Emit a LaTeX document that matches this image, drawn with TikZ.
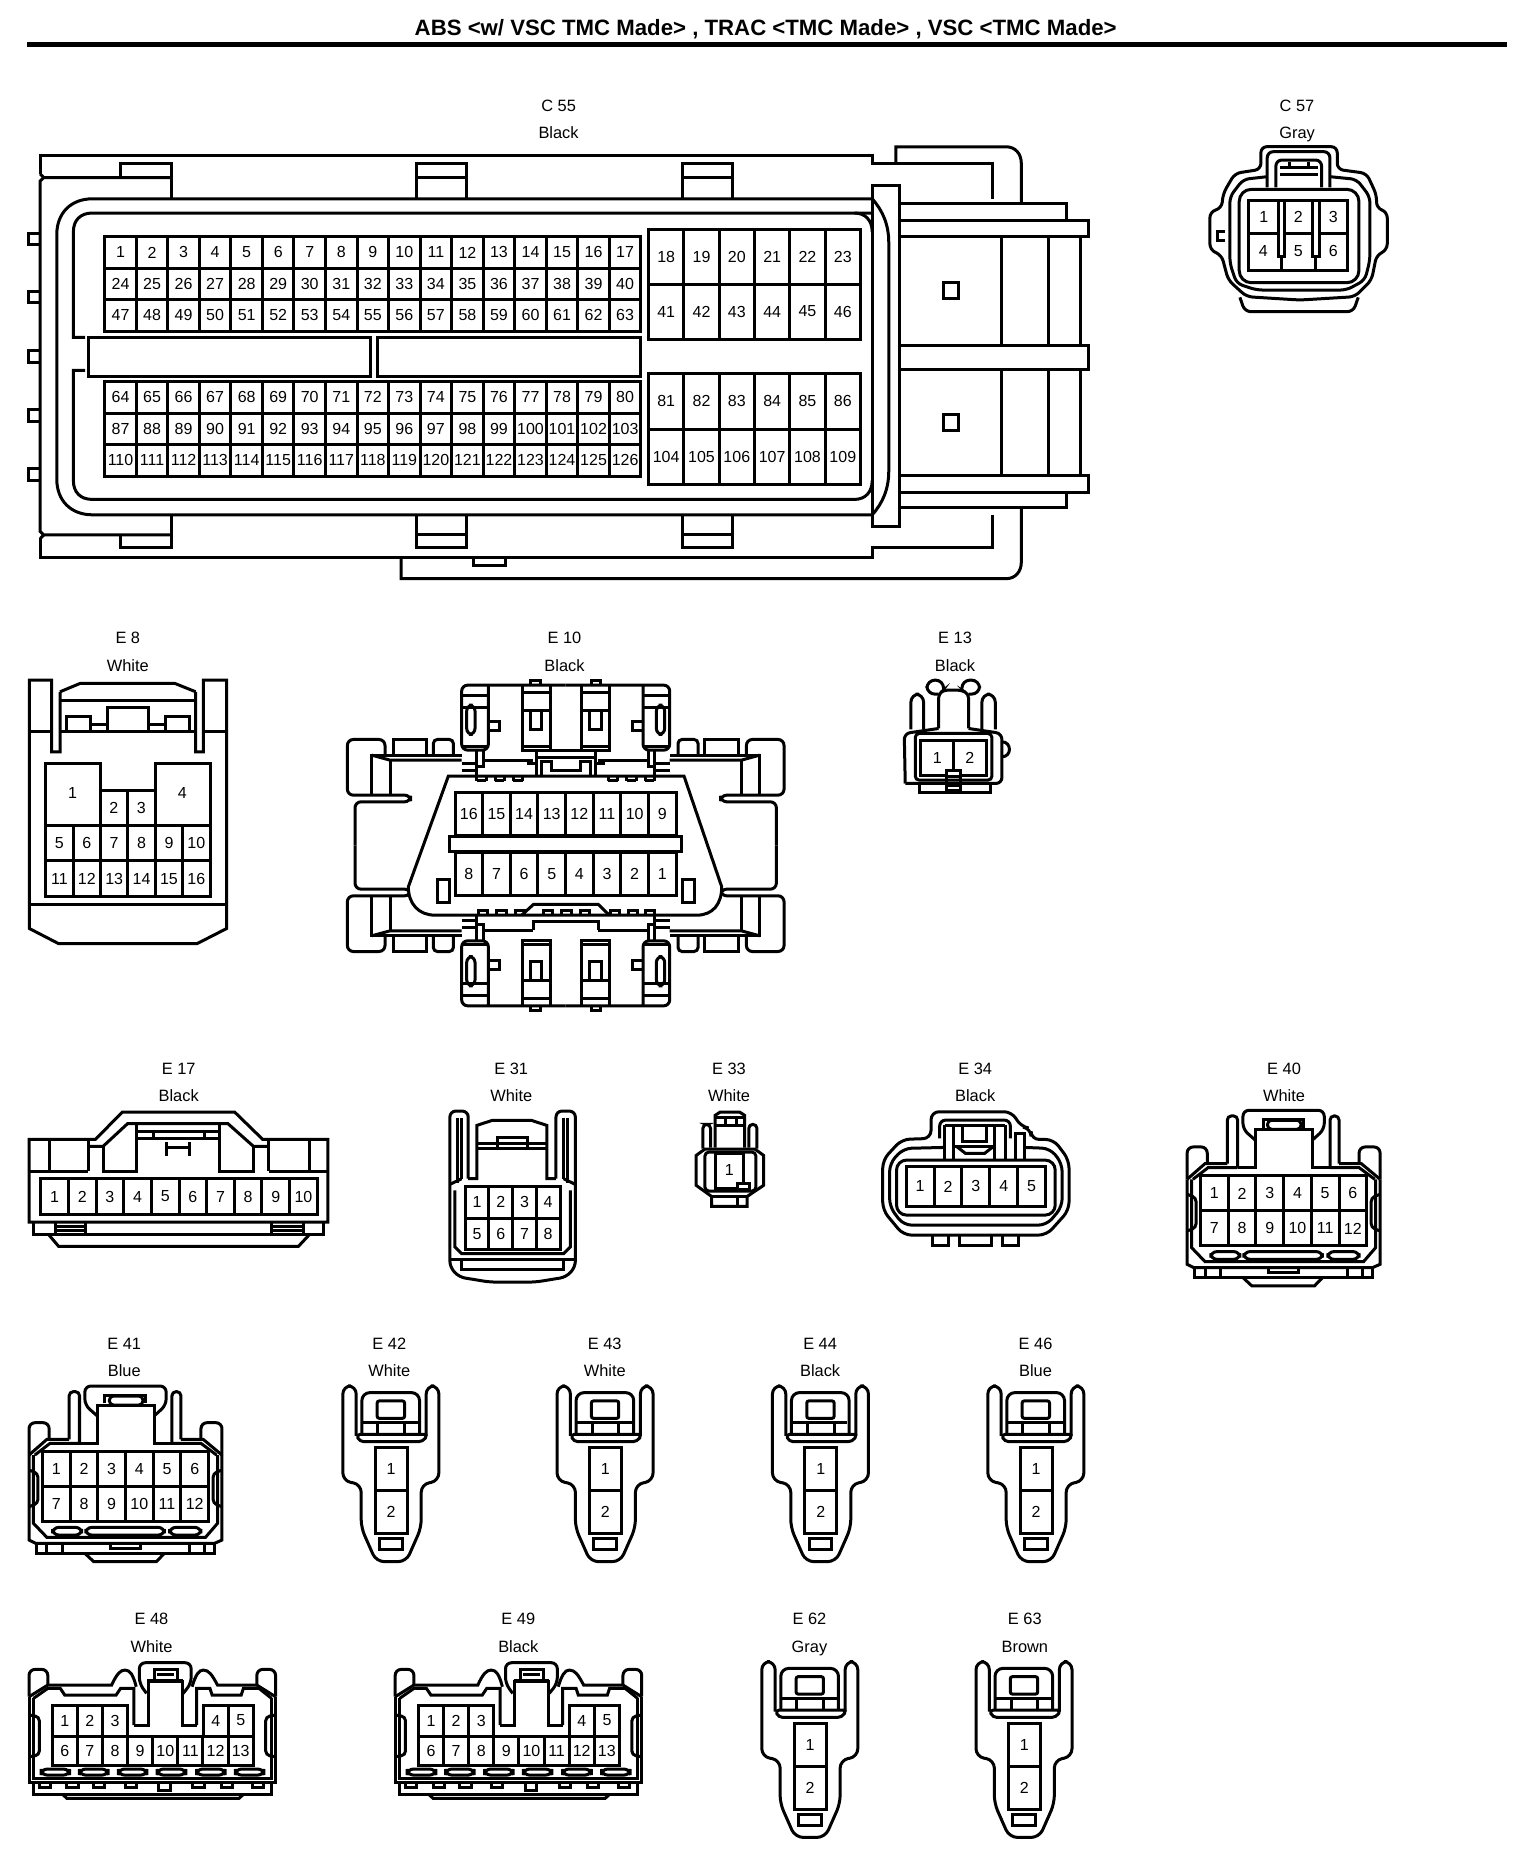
\documentclass[tikz,border=0pt]{standalone}
\usepackage{fontspec}
\setmainfont{Liberation Sans}
\usepackage{tikz}

\tikzset{
  pinlab/.style={font=\fontsize{8}{8}\selectfont,inner sep=0pt},
  tag/.style={font=\fontsize{8.2}{9}\selectfont,inner sep=0pt,anchor=base},
  heading/.style={font=\fontsize{11.1}{12}\selectfont\bfseries,inner sep=0pt}
}
\newcommand{\pinrow}[6]{%
  \foreach \lab [count=\k from 0] in {#6} {
    \draw ({#2+\k*#4},#3) rectangle ++(#4,#5);
    \node[pinlab] (#1-\lab) at ({#2+(\k+.5)*#4},{#3+#5/2}) {\lab};
  }}

\begin{document}
\begin{tikzpicture}[x=0.5917pt,y=-0.5917pt,line width=1.5pt]
\useasboundingbox (0,0) rectangle (1298,1570);
\node[heading] (title) at (647,25) {ABS <w/ VSC TMC Made> , TRAC <TMC Made> , VSC <TMC Made>};
\draw[line width=2.2pt] (23,37.5) -- (1273,37.5);
\foreach \cn/\nm/\col/\cx/\cy in {C55/C 55/Black/472/88,C57/C 57/Gray/1096/88,E8/E 8/White/108/538,
  E10/E 10/Black/477/538,E13/E 13/Black/807/538,E17/E 17/Black/151/902,E31/E 31/White/432/902,
  E33/E 33/White/616/902,E34/E 34/Black/824/902,E40/E 40/White/1085/902,E41/E 41/Blue/105/1134,
  E42/E 42/White/329/1134,E43/E 43/White/511/1134,E44/E 44/Black/693/1134,E46/E 46/Blue/875/1134,
  E48/E 48/White/128/1367,E49/E 49/Black/438/1367,E62/E 62/Gray/684/1367,E63/E 63/Brown/866/1367} {
  \node[tag] (\cn-name) at (\cx,\cy+6) {\nm};
  \node[tag] (\cn-color) at (\cx,\cy+29) {\col};
}

\draw (34,147) -- (34,131) -- (737,131) -- (737,138) -- (839,138) -- (839,168);
\draw (757,138) -- (757,124) -- (850,124) .. controls (858,124) and (863,130) .. (863,138) -- (863,172);
\draw (34,455) -- (34,471) -- (737,471) -- (737,463) -- (839,463) -- (839,435);
\draw (339,471) -- (339,489) -- (850,489) .. controls (858,489) and (863,483) .. (863,475) -- (863,429);
\draw (400,471) -- (400,478) -- (427,478) -- (427,471);
\draw (34,147) -- (37,150) -- (145,150);
\draw (37,150) -- (34,153) -- (34,449) -- (37,452) -- (145,452);
\draw (37,452) -- (34,455);
\draw (102,150) -- (102,138) -- (145,138) -- (145,168);
\draw (102,452) -- (102,463) -- (145,463) -- (145,435);
\foreach \tx in {352,577} {
  \draw (\tx,168) -- (\tx,138) -- (\tx+42,138) -- (\tx+42,168);
  \draw (\tx,150) -- (\tx+42,150);
  \draw (\tx,435) -- (\tx,463) -- (\tx+42,463) -- (\tx+42,435);
  \draw (\tx,452) -- (\tx+42,452);
}
\foreach \ty in {197,246,296,346,396}
  \draw (34,\ty) -- (24,\ty) -- (24,\ty+10) -- (34,\ty+10);
\draw (737,168) -- (78,168) .. controls (60,168) and (48,180) .. (48,198) -- (48,405) .. controls (48,423) and (60,435) .. (78,435) -- (737,435);
\draw (737,180) -- (78,180) .. controls (68,180) and (62,186) .. (62,196) -- (62,285) -- (72,285);
\draw (72,313) -- (62,313) -- (62,406) .. controls (62,416) and (68,422) .. (78,422) -- (722,422) .. controls (731,422) and (737,416) .. (737,406);
\draw (722,180) .. controls (731,180) and (737,186) .. (737,196);
\draw[fill=white] (737,157) rectangle (760,445);
\draw (737,168) .. controls (746,178) and (751,190) .. (751,205) -- (751,398) .. controls (751,413) and (746,425) .. (737,435);
\draw (761,172) -- (901,172) -- (901,186);
\draw (761,186) -- (920,186) -- (920,200) -- (761,200);
\draw (761,292) -- (920,292) -- (920,312) -- (761,312);
\draw (761,402) -- (920,402) -- (920,416) -- (761,416);
\draw (901,416) -- (901,429) -- (761,429);
\foreach \vx in {846,886,913} {
  \draw (\vx,200) -- (\vx,292);
  \draw (\vx,312) -- (\vx,402);
}
\draw (797,239) rectangle (810,252);
\draw (797,350) rectangle (810,364);
\pinrow{c55}{88.5}{200}{26.65}{26.6}{1,...,17}
\pinrow{c55}{88.5}{226.6}{26.65}{26.6}{24,...,40}
\pinrow{c55}{88.5}{253.2}{26.65}{26.6}{47,...,63}
\pinrow{c55}{88.5}{322.5}{26.65}{26.6}{64,...,80}
\pinrow{c55}{88.5}{349.1}{26.65}{26.6}{87,...,103}
\pinrow{c55}{88.5}{375.7}{26.65}{26.6}{110,...,126}
\pinrow{c55}{548}{193.5}{29.85}{46.5}{18,...,23}
\pinrow{c55}{548}{240}{29.85}{46.5}{41,...,46}
\pinrow{c55}{548}{316}{29.85}{46.5}{81,...,86}
\pinrow{c55}{548}{362.5}{29.85}{46.5}{104,...,109}
\draw (75,285) rectangle (313,318);
\draw (319,285) rectangle (541,318);

\begin{scope}[shift={(997,67.6)},scale=.2817]
\draw[rounded corners=3pt] (243,268) -- (243,200) -- (472,200) -- (472,268) -- (560,280) -- (590,345) -- (590,385) -- (622,395) -- (622,510) -- (590,525) -- (575,600) -- (525,650) -- (360,660) -- (200,650) -- (145,600) -- (125,525) -- (90,510) -- (90,395) -- (125,385) -- (130,340) -- (165,280) -- cycle;
\draw[rounded corners=3pt] (180,652) -- (195,695) -- (520,695) -- (535,652);
\draw[rounded corners=3pt] (262,290) -- (190,298) -- (150,350) -- (150,550) -- (170,610) -- (230,630) -- (500,630) -- (555,600) -- (570,540) -- (570,350) -- (530,298) -- (450,290);
\draw[rounded corners=6pt] (178,328) rectangle (537,608);
\draw[rounded corners=3pt] (262,322) -- (262,215) -- (450,215) -- (450,322);
\draw[rounded corners=3pt] (288,322) -- (288,240) -- (425,240) -- (425,322);
\draw (300,262) -- (415,262);
\draw (300,282) -- (415,282);
\draw (330,245) -- (330,262);
\draw (385,245) -- (385,262);
\draw (135,455) -- (112,455) -- (112,480) -- (135,480);
\draw (207,362) rectangle (503,570);
\draw (207,460) -- (295,460);
\draw (315,460) -- (398,460);
\draw (418,460) -- (503,460);
\draw (295,362) -- (295,530) -- (315,530) -- (315,362);
\draw (398,362) -- (398,530) -- (418,530) -- (418,362);
\draw (305,530) -- (305,570);
\draw (408,530) -- (408,570);
\foreach \lab/\px/\py in {1/252/410,2/355/410,3/460/410,4/250/512,5/355/512,6/460/512}
  \node[pinlab] (c57-\lab) at (\px,\py) {\lab};
\end{scope}

\begin{scope}[shift={(8.45,524)},scale=.2817]
\draw (150,215) -- (150,395) -- (125,395) -- (125,180) -- (58,180) -- (58,925) -- (145,970) -- (562,970) -- (650,925) -- (650,180) -- (580,180) -- (580,395) -- (557,395) -- (557,215);
\draw (150,215) -- (210,190) -- (495,190) -- (557,215);
\draw (150,240) -- (557,240);
\draw (58,335) -- (125,335);
\draw (150,335) -- (557,335);
\draw (580,335) -- (650,335);
\draw (168,335) -- (168,288) -- (240,288) -- (240,335);
\draw (292,335) -- (292,262) -- (415,262) -- (415,335);
\draw (465,335) -- (465,288) -- (537,288) -- (537,335);
\draw (240,312) -- (292,312);
\draw (415,312) -- (465,312);
\draw (58,852) -- (650,852);
\draw (107,430) rectangle (270,615);
\draw (435,430) rectangle (600,615);
\node[pinlab] (e8-1) at (188,520) {1};
\node[pinlab] (e8-4) at (517,520) {4};
\pinrow{e8}{270}{510}{82.5}{105}{2,3}
\pinrow{e8}{107}{615}{82.2}{107.5}{5,...,10}
\pinrow{e8}{107}{722.5}{82.2}{107.5}{11,...,16}
\end{scope}

\begin{scope}[shift={(270.4,524)},scale=.2817]
\foreach \sx/\sy in {1/1,-1/1,1/-1,-1/-1} {
  \begin{scope}[shift={(737,676)},xscale=\sx,yscale=\sy,shift={(-737,-676)}]
  \draw[rounded corners=3pt] (105,676) -- (105,545) -- (272,545) -- (272,525) -- (82,525) -- (82,358) -- (195,358) -- (195,405);
  \draw (220,405) -- (220,358) -- (320,358) -- (320,405);
  \draw[rounded corners=2pt] (340,405) -- (340,358) -- (400,358) -- (400,405);
  \draw (155,525) -- (155,405) -- (425,405);
  \draw (155,405) -- (210,420) -- (425,420);
  \draw (210,420) -- (210,525);
  \draw[rounded corners=3pt] (737,195) -- (425,195) -- (425,390) -- (505,390) -- (505,195);
  \draw (425,225) -- (505,225);
  \draw (425,262) -- (505,262);
  \draw (425,378) -- (505,378);
  \draw[rounded corners=3pt] (440,255) rectangle (465,343);
  \draw (505,305) -- (537,305) -- (537,330) -- (505,330);
  \draw (607,195) -- (607,390) -- (690,390) -- (690,195);
  \draw (607,218) -- (690,218);
  \draw (607,270) -- (690,270);
  \draw (607,378) -- (690,378);
  \draw (630,270) -- (630,328) -- (665,328) -- (665,270);
  \draw (632,195) -- (632,180) -- (660,180) -- (660,195);
  \draw (470,390) -- (470,470);
  \draw (490,390) -- (490,440) -- (470,440);
  \draw (425,430) -- (470,430);
  \draw (425,450) -- (470,450);
  \draw (490,422) -- (640,422);
  \end{scope}
}
\draw (640,930) -- (640,905) -- (835,905) -- (835,930);
\draw (650,392) -- (825,392);
\draw (650,392) -- (650,468);
\draw (825,392) -- (825,468);
\draw (650,412) -- (825,412);
\draw (620,430) -- (650,430);
\draw (825,430) -- (855,430);
\draw (665,468) -- (665,425) -- (695,425) -- (695,452) -- (780,452) -- (780,425) -- (810,425) -- (810,468);
\draw[fill=white] (385,468) -- (1092,468) -- (1205,800) .. controls (1205,850) and (1180,885) .. (1130,885) -- (345,885) .. controls (295,885) and (265,850) .. (265,800) -- cycle;
\foreach \cx in {470,525,580,865,920,975} {
  \draw (\cx,482) -- (\cx+28,482);
  \draw (\cx,470) -- (\cx,482);
  \draw (\cx+28,470) -- (\cx+28,482);
}
\foreach \cx in {475,530,585,870,925,975} {
  \draw (\cx,885) -- (\cx,872) -- (\cx+28,872) -- (\cx+28,885);
}
\draw (605,885) -- (640,853) -- (835,853) -- (868,885);
\foreach \cx in {670,725,780}
  \draw (\cx,885) -- (\cx,872) -- (\cx+28,872) -- (\cx+28,885);
\pinrow{e10}{405}{518}{82.9}{127}{16,15,14,13,12,11,10,9}
\pinrow{e10}{405}{698}{82.9}{127}{8,7,6,5,4,3,2,1}
\draw[fill=white] (388,648) rectangle (1085,695);
\draw (352,778) rectangle (388,848);
\draw (1086,778) rectangle (1122,848);
\end{scope}

\begin{scope}[shift={(743.8,524)},scale=.2817]
\draw[rounded corners=4pt] (175,222) -- (140,222) -- (140,180) -- (190,180) -- (190,210);
\draw[rounded corners=4pt] (265,222) -- (298,222) -- (298,180) -- (245,180) -- (245,210);
\draw[rounded corners=2pt] (175,325) -- (175,222) -- (190,210) -- (245,210) -- (265,222) -- (265,325);
\draw[rounded corners=4pt] (92,328) -- (92,222) -- (130,222) -- (130,328);
\draw[rounded corners=4pt] (305,328) -- (305,222) -- (345,222) -- (345,328);
\draw[rounded corners=3pt] (75,490) -- (72,340) -- (175,325);
\draw[rounded corners=3pt] (265,325) -- (365,340) -- (365,490) -- (75,490);
\draw (365,365) .. controls (395,365) and (395,410) .. (365,410);
\draw[rounded corners=2pt] (105,340) rectangle (335,480);
\draw (118,490) -- (118,518) -- (330,518) -- (330,490);
\pinrow{e13}{122}{360}{98}{105}{1,2}
\draw[fill=white] (200,452) rectangle (240,470);
\draw (200,470) -- (200,510) -- (240,510) -- (240,470);
\draw (200,495) -- (240,495);
\end{scope}

\begin{scope}[shift={(0,896)},xscale=.431,yscale=.2817]
\draw (57,485) -- (57,237) -- (187,237) -- (240,155) -- (460,155) -- (515,237) -- (643,237) -- (643,485) -- cycle;
\draw (175,258) -- (202,258) -- (250,190) -- (447,190) -- (497,258) -- (527,258);
\draw (97,237) -- (97,333);
\draw (173,237) -- (173,333);
\draw (57,333) -- (173,333);
\draw (527,237) -- (527,333);
\draw (607,237) -- (607,333);
\draw (527,333) -- (643,333);
\draw (202,258) -- (202,333) -- (268,333) -- (268,195);
\draw (430,195) -- (430,333) -- (497,333) -- (497,258);
\draw (268,213) -- (430,213);
\draw (268,235) -- (430,235);
\draw (300,213) -- (300,235);
\draw (400,213) -- (400,235);
\draw (327,245) -- (327,288);
\draw (372,245) -- (372,288);
\draw (327,262) -- (372,262);
\pinrow{e17}{80}{355}{54.2}{107}{1,...,10}
\draw (65,485) -- (65,522) -- (635,522) -- (635,485);
\draw (108,485) -- (108,522);
\draw (168,485) -- (168,522);
\draw (108,497) -- (168,497);
\draw (108,510) -- (168,510);
\draw (533,485) -- (533,522);
\draw (595,485) -- (595,522);
\draw (533,497) -- (595,497);
\draw (533,510) -- (595,510);
\draw (95,522) -- (115,558) -- (585,558) -- (607,522);

\draw[rounded corners=3pt] (918,355) -- (918,152) -- (882,152) -- (882,620) -- (900,650) -- (960,665) -- (1050,665) -- (1110,650) -- (1128,620) -- (1128,152) -- (1090,152) -- (1090,355);
\draw (897,172) -- (897,368);
\draw (905,172) -- (905,355);
\draw (1113,172) -- (1113,368);
\draw (1105,172) -- (1105,355);
\draw (918,355) -- (935,355) -- (935,195) -- (965,180) -- (1042,180) -- (1072,195) -- (1072,355) -- (1090,355);
\draw (935,250) -- (1072,250);
\draw (935,265) -- (1072,265);
\draw (975,230) rectangle (1035,265);
\draw (882,372) -- (905,355);
\draw (1128,372) -- (1105,355);
\pinrow{e31}{912}{378}{46.5}{96}{1,2,3,4}
\pinrow{e31}{912}{474}{46.5}{94}{5,6,7,8}
\draw (892,390) -- (892,560) -- (905,580) -- (1105,580) -- (1118,560) -- (1118,390);
\draw (882,597) -- (1128,597);
\draw (905,597) -- (905,628) -- (1105,628) -- (1105,597);

\draw (1402,262) -- (1402,165) -- (1412,155) -- (1450,155) -- (1460,165) -- (1460,262);
\draw (1402,170) -- (1460,170);
\draw (1402,195) -- (1460,195);
\draw (1422,170) -- (1422,195);
\draw (1443,170) -- (1443,195);
\draw[rounded corners=2pt] (1378,265) -- (1378,192) -- (1393,192) -- (1393,262);
\draw[rounded corners=2pt] (1468,262) -- (1468,192) -- (1484,192) -- (1484,265);
\draw (1382,266) -- (1480,266) -- (1497,285) -- (1497,375) -- (1465,408) -- (1465,438) -- (1395,438) -- (1395,408) -- (1365,375) -- (1365,285) -- cycle;
\draw[rounded corners=2pt] (1382,275) rectangle (1482,392);
\draw (1402,280) rectangle (1458,385);
\node[pinlab] (e33-1) at (1430,330) {1};
\draw[fill=white] (1445,370) rectangle (1470,388);
\draw (1395,408) -- (1465,408);
\draw (1445,408) -- (1445,438);
\end{scope}

\begin{scope}[shift={(725.5,887.3)},xscale=.2915,yscale=.2817]
\draw[rounded corners=4pt] (210,265) -- (210,185) -- (445,185) -- (470,230) -- (500,235) -- (500,268) -- (565,268) -- (610,330) -- (610,480) -- (545,555) -- (130,555) -- (70,480) -- (70,330) -- (125,268) -- cycle;
\draw[rounded corners=4pt] (250,292) -- (130,295) -- (90,340) -- (90,470) -- (130,525) -- (545,525) -- (590,470) -- (590,340) -- (555,295) -- (480,292);
\draw[rounded corners=5pt] (110,330) rectangle (570,495);
\pinrow{e34}{138}{350}{80.8}{118}{1,...,5}
\draw[rounded corners=3pt] (235,265) -- (235,210) -- (440,210) -- (440,265);
\draw (250,225) -- (425,225);
\draw (250,225) -- (250,328);
\draw (275,225) -- (275,328);
\draw (395,225) -- (395,328);
\draw (425,225) -- (425,328);
\draw (302,225) -- (302,275) -- (372,275) -- (372,225);
\draw (285,290) -- (310,310) -- (365,310) -- (390,290);
\draw (275,290) -- (395,290);
\draw (455,328) -- (455,250) -- (480,250) -- (480,328);
\draw (213,555) -- (213,585) -- (260,585) -- (260,555);
\draw (292,555) -- (292,585) -- (385,585) -- (385,555);
\draw (417,555) -- (417,585) -- (463,585) -- (463,555);
\end{scope}

\foreach \cn/\dx/\dy in {e41/0/0,e40/978.6/-233} {
  \begin{scope}[shift={(\dx,1132.3+\dy)},xscale=.3774,yscale=.2817]
  \draw[rounded corners=3pt] (218,228) -- (190,195) -- (190,138) -- (372,138) -- (372,195) -- (345,228);
  \draw (178,310) -- (218,310) -- (218,195) -- (345,195) -- (345,310) -- (385,310);
  \draw (235,190) -- (235,165) -- (325,165) -- (325,190);
  \draw[rounded corners=2pt] (245,168) rectangle (320,195);
  \draw[rounded corners=2pt] (155,298) -- (155,155) -- (178,155) -- (178,310);
  \draw[rounded corners=2pt] (385,310) -- (385,155) -- (405,155) -- (405,298);
  \draw[rounded corners=3pt] (65,345) -- (65,248) -- (110,248) -- (110,298);
  \draw[rounded corners=3pt] (450,298) -- (450,248) -- (497,248) -- (497,345);
  \draw (65,345) -- (105,298) -- (155,298);
  \draw (405,298) -- (455,298) -- (497,345);
  \draw (78,345) -- (112,310) -- (178,310);
  \draw (385,310) -- (450,310) -- (485,345);
  \draw (65,345) -- (65,600) -- (80,610) -- (480,610) -- (497,600) -- (497,345);
  \draw (75,345) -- (75,550) -- (105,592) -- (460,592) -- (487,550) -- (487,345);
  \draw[rounded corners=2pt] (65,390) -- (85,400) -- (85,490) -- (65,500);
  \draw[rounded corners=2pt] (497,390) -- (477,400) -- (477,490) -- (497,500);
  \pinrow{\cn}{95}{335}{62}{105}{1,...,6}
  \pinrow{\cn}{95}{440}{62}{105}{7,...,12}
  \draw[rounded corners=3pt] (118,562) rectangle (183,585);
  \draw[rounded corners=3pt] (192,562) rectangle (368,585);
  \draw[rounded corners=3pt] (380,562) rectangle (450,585);
  \draw (82,610) -- (82,640) -- (480,640) -- (480,610);
  \draw (105,612) -- (105,640);
  \draw (140,612) -- (140,640);
  \draw (425,612) -- (425,640);
  \draw (458,612) -- (458,640);
  \draw (248,612) -- (248,626) -- (315,626) -- (315,612);
  \draw (190,640) -- (210,665) -- (350,665) -- (368,640);
  \end{scope}
}

\foreach \cn/\dx/\dy in {e42/-354/-233,e43/-173/-233,e44/9/-233,e46/191/-233,e62/0/0,e63/181/0} {
  \begin{scope}[shift={(625.4+\dx,1352+\dy)},scale=.2817]
  \draw[rounded corners=4pt] (105,335) -- (105,185) -- (65,185) -- (65,470) -- (120,480) -- (120,610) -- (165,712) -- (255,712) -- (300,610) -- (300,480) -- (353,470) -- (353,185) -- (315,185) -- (315,335);
  \draw[rounded corners=2pt] (105,330) -- (320,330) -- (305,352) -- (115,352) -- cycle;
  \draw[rounded corners=4pt] (122,330) -- (122,205) -- (295,205) -- (295,330);
  \draw (125,295) -- (290,295);
  \draw (170,300) -- (170,330);
  \draw (250,300) -- (250,330);
  \draw[rounded corners=1pt] (168,230) rectangle (250,282);
  \pinrow{\cn}{162}{370}{96}{130}{1}
  \pinrow{\cn}{162}{500}{96}{128}{2}
  \draw (175,642) rectangle (243,675);
  \end{scope}
}

\foreach \cn/\dx in {e48/0,e49/309.4} {
  \begin{scope}[shift={(\dx,1132.3)},xscale=.3774,yscale=.2817]
  \draw[rounded corners=3pt] (107,1035) -- (107,988) -- (65,988) -- (65,1070);
  \draw[rounded corners=3pt] (575,1035) -- (575,988) -- (617,988) -- (617,1070);
  \draw (65,1070) -- (107,1035) -- (250,1035) .. controls (262,1000) and (270,990) .. (280,990) .. controls (292,990) and (298,1005) .. (305,1040);
  \draw (430,1040) .. controls (438,1005) and (445,990) .. (455,990) .. controls (468,990) and (475,1005) .. (487,1035) -- (575,1035) -- (617,1070);
  \draw (65,1070) -- (65,1328) -- (617,1328) -- (617,1070);
  \draw (75,1075) -- (75,1315) -- (608,1315) -- (608,1075);
  \draw (75,1075) -- (107,1045) -- (135,1045) -- (145,1065) -- (260,1065) -- (270,1045) -- (300,1045) -- (300,1155);
  \draw (440,1155) -- (440,1045) -- (470,1045) -- (475,1065) -- (540,1065) -- (545,1045) -- (580,1045) -- (608,1075);
  \draw[rounded corners=3pt] (328,1060) -- (312,1030) -- (312,968) -- (428,968) -- (428,1030) -- (410,1060);
  \draw (300,1155) -- (333,1155) -- (333,1025) -- (408,1025) -- (408,1155) -- (440,1155);
  \draw (330,1020) -- (410,1020);
  \draw (345,1018) -- (345,988) -- (398,988) -- (398,1018);
  \draw (352,1002) -- (390,1002);
  \draw[rounded corners=2pt] (65,1125) -- (88,1130) -- (88,1245) -- (65,1250);
  \draw[rounded corners=2pt] (617,1125) -- (595,1130) -- (595,1245) -- (617,1250);
  \pinrow{\cn}{117}{1095}{56.25}{93}{1,2,3}
  \pinrow{\cn}{455}{1095}{56.25}{93}{4,5}
  \pinrow{\cn}{117}{1188}{56.25}{89}{6,...,13}
  \foreach \ox in {92,178,265,352,440,527}
    \draw[rounded corners=3pt] (\ox,1287) rectangle (\ox+64,1305);
  \draw (75,1328) -- (75,1363) -- (608,1363) -- (608,1328);
  \foreach \ox in {88,150,210,280,432,495,565}
    \draw (\ox,1328) -- (\ox,1342) -- (\ox+25,1342) -- (\ox+25,1328);
  \draw (356,1328) -- (356,1352) -- (382,1352) -- (382,1328);
  \draw (140,1363) -- (150,1375) -- (535,1375) -- (545,1363);
  \end{scope}
}
\end{tikzpicture}
\end{document}
